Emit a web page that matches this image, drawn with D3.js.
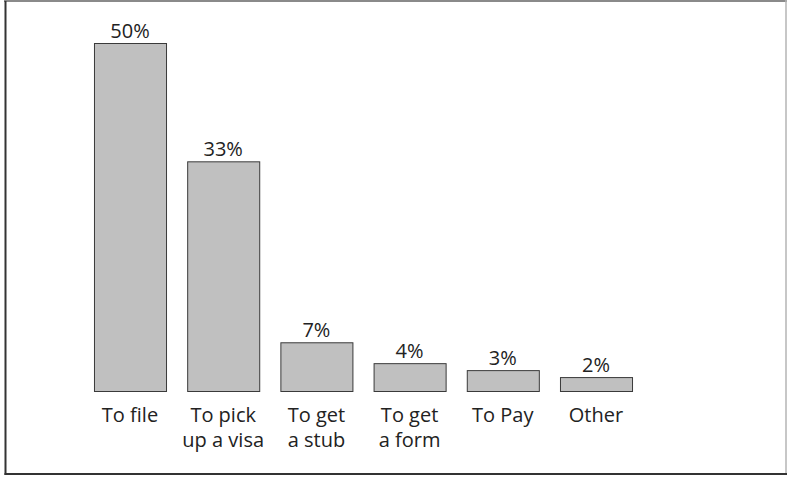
<!DOCTYPE html>
<html>
<head>
<meta charset="utf-8">
<script src="https://cdn.jsdelivr.net/npm/d3@7"></script>
<style>
html,body{margin:0;padding:0;background:#fff;}
svg{display:block;}
</style>
</head>
<body>
<svg id="chart" width="787" height="477"></svg>
<script>
const categories = [["To file"], ["To pick", "up a visa"], ["To get", "a stub"], ["To get", "a form"], ["To Pay"], ["Other"]];
const values = [50, 33, 7, 4, 3, 2];
const valueLabels = ["50%", "33%", "7%", "4%", "3%", "2%"];

const svg = d3.select("#chart");
const font = "'Open Sans', 'Noto Sans', sans-serif";

// frame
svg.append("line").attr("x1", 4).attr("x2", 787).attr("y1", 1).attr("y2", 1)
  .attr("stroke", "#8a8a8a").attr("stroke-width", 2);
svg.append("line").attr("x1", 786).attr("x2", 786).attr("y1", 0).attr("y2", 475)
  .attr("stroke", "#b5b5b5").attr("stroke-width", 1.5);
svg.append("line").attr("x1", 5.5).attr("x2", 5.5).attr("y1", 1).attr("y2", 475)
  .attr("stroke", "#333").attr("stroke-width", 2);
svg.append("line").attr("x1", 4.5).attr("x2", 787).attr("y1", 474).attr("y2", 474)
  .attr("stroke", "#333").attr("stroke-width", 2);

const idx = d3.range(values.length);
const x = d3.scaleBand().domain(idx).range([83.4, 642.6]).paddingInner(0.227).paddingOuter(0.1135);
const y = d3.scaleLinear().domain([0, 50]).range([391, 43]);

svg.selectAll("rect.bar").data(idx).join("rect")
  .attr("class", "bar")
  .attr("x", i => x(i) + 0.5)
  .attr("y", i => y(values[i]) + 0.5)
  .attr("width", x.bandwidth())
  .attr("height", i => y(0) - y(values[i]))
  .attr("fill", "#c0c0c0")
  .attr("stroke", "#3a3a3a")
  .attr("stroke-width", 1);

svg.selectAll("text.val").data(idx).join("text")
  .attr("class", "val")
  .attr("x", i => x(i) + x.bandwidth() / 2)
  .attr("y", i => y(values[i]) - 5)
  .attr("text-anchor", "middle")
  .attr("font-family", font)
  .attr("font-size", 20)
  .attr("fill", "#222")
  .text(i => valueLabels[i]);

const cat = svg.selectAll("text.cat").data(idx).join("text")
  .attr("class", "cat")
  .attr("text-anchor", "middle")
  .attr("font-family", font)
  .attr("font-size", 20)
  .attr("fill", "#222");
cat.each(function(i) {
  const t = d3.select(this);
  categories[i].forEach((line, k) => {
    t.append("tspan")
      .attr("x", x(i) + x.bandwidth() / 2)
      .attr("y", 422 + k * 25)
      .text(line);
  });
});
</script>
</body>
</html>
